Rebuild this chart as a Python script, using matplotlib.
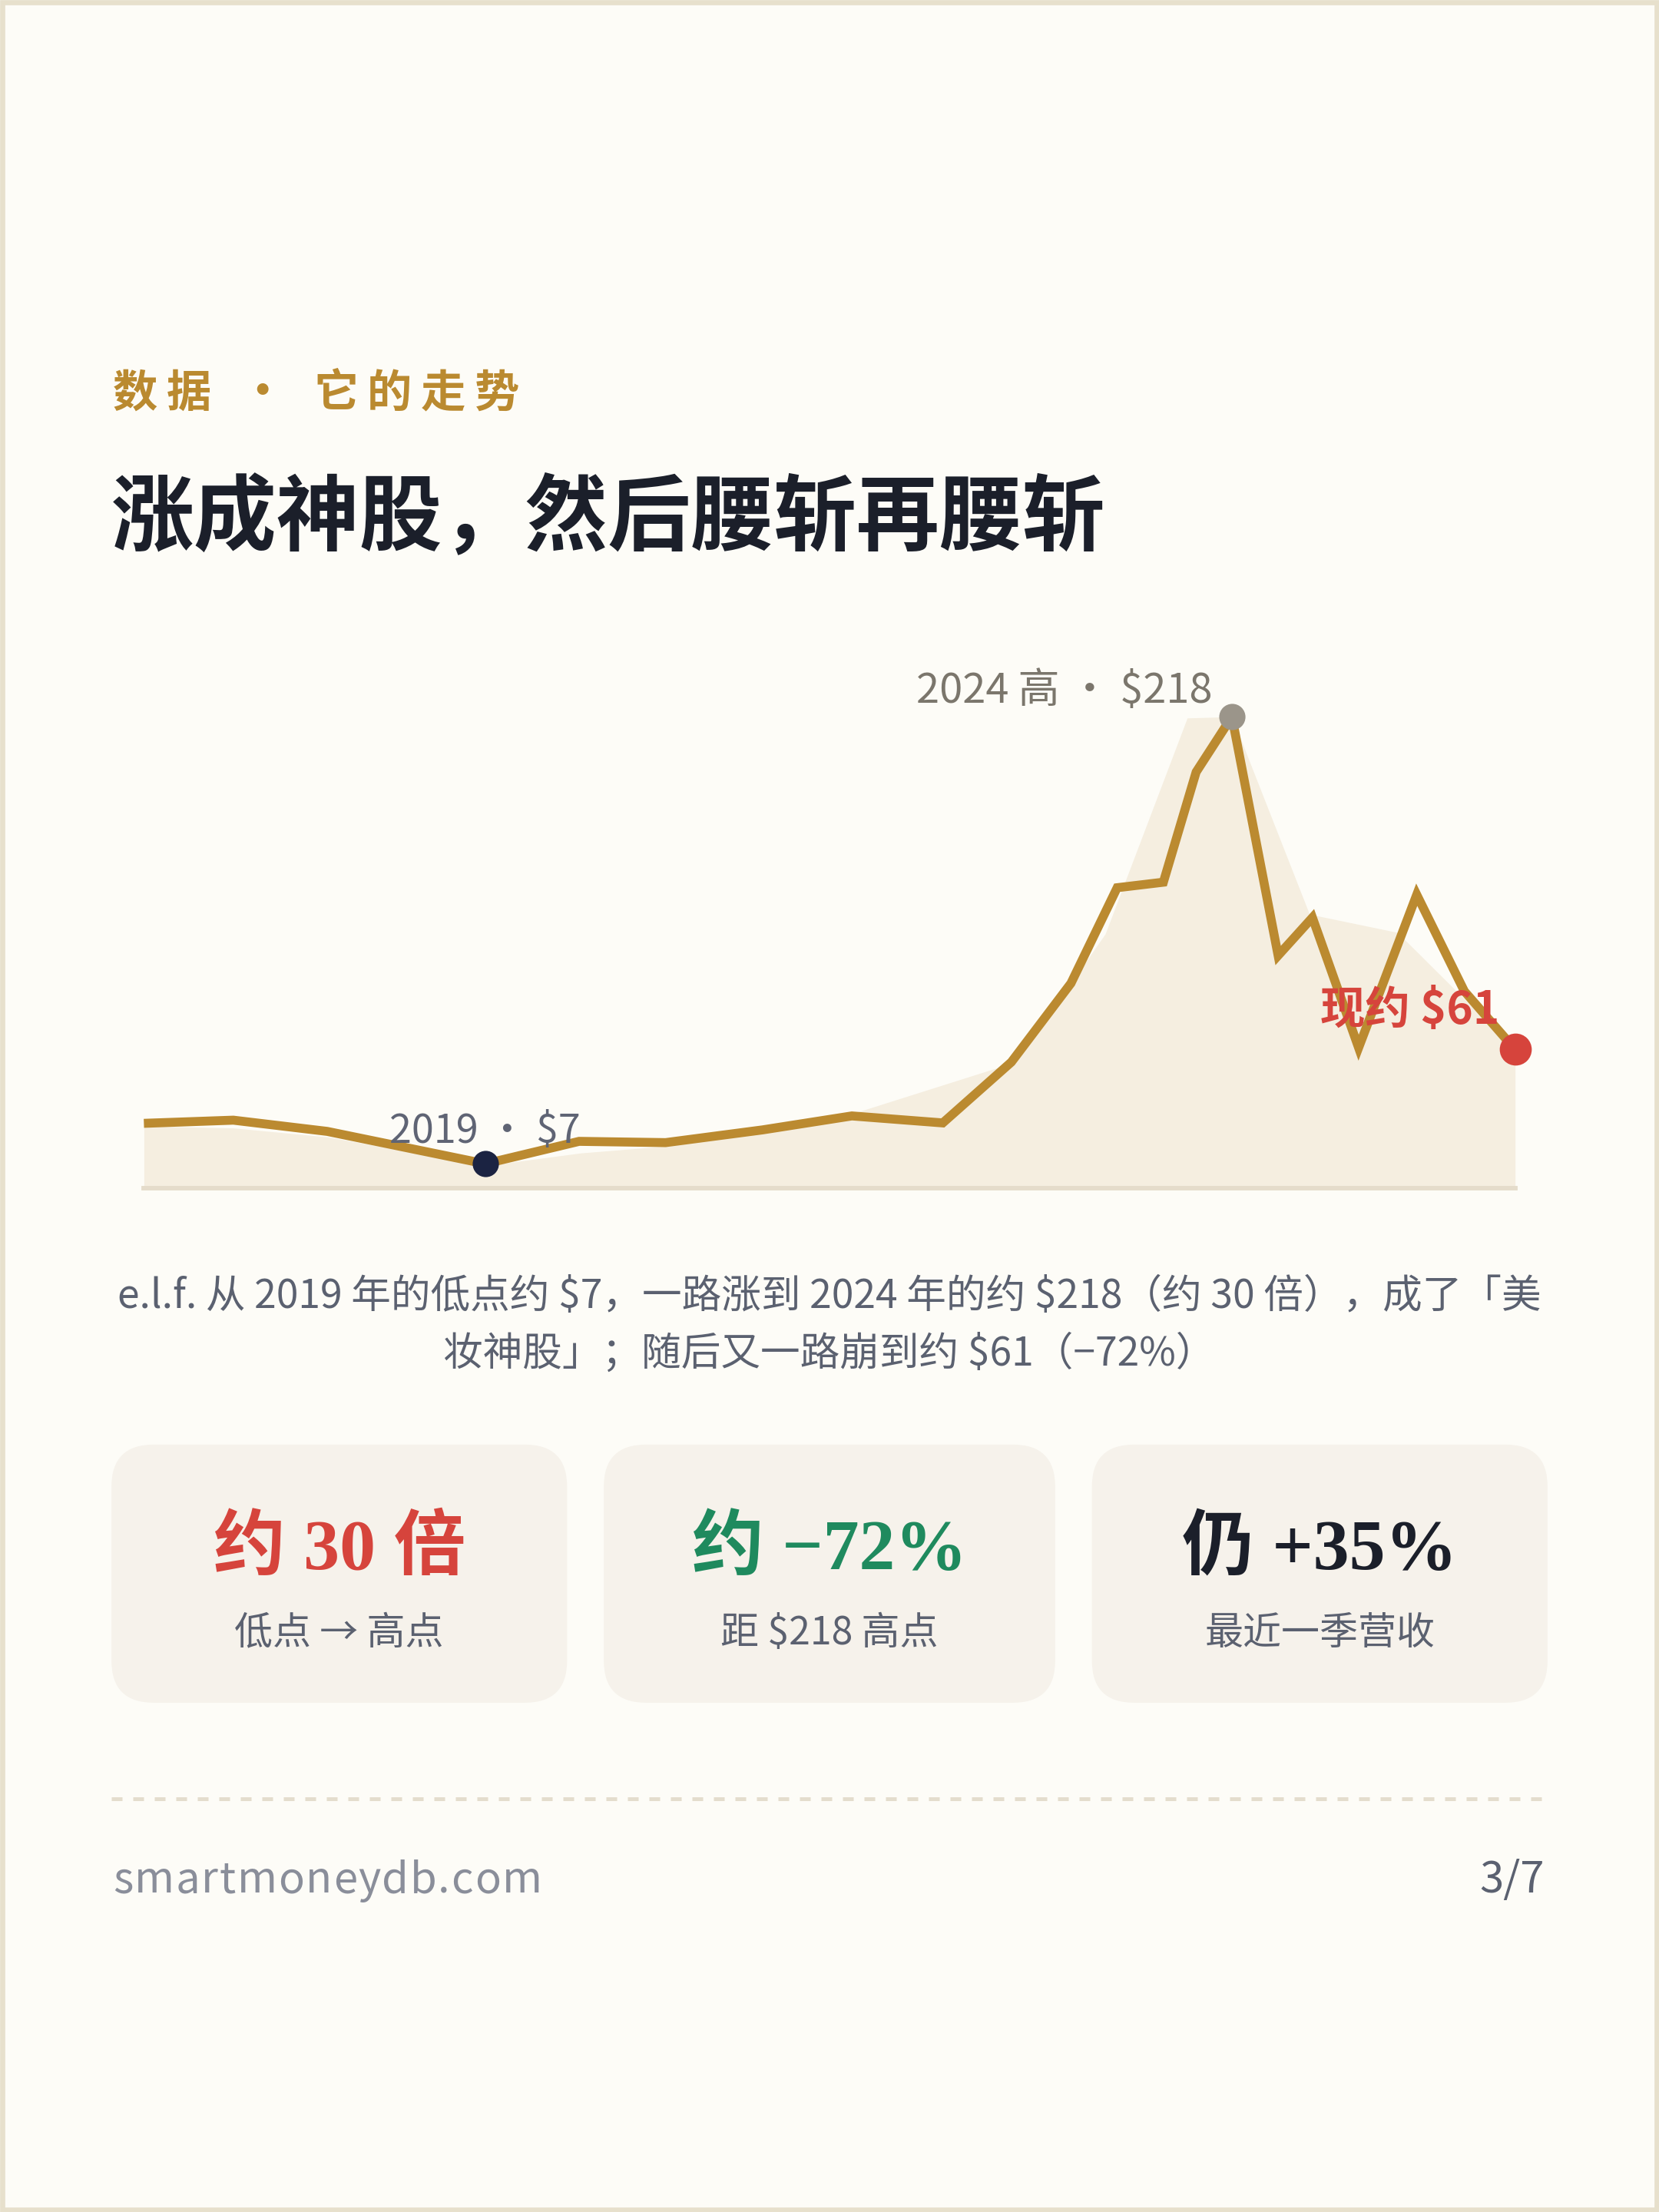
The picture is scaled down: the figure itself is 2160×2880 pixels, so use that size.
import matplotlib
matplotlib.use("Agg")
import matplotlib.pyplot as plt
from matplotlib.patches import FancyBboxPatch, Rectangle

plt.rcParams['font.family'] = ['Noto Sans CJK SC', 'DejaVu Sans']

# price line (x = fractional year, y = share price in $)
line_t = [2016.71, 2017.31, 2017.94, 2019.00, 2019.63, 2020.21, 2020.86, 2021.46,
          2022.07, 2022.53, 2022.93, 2023.24, 2023.55, 2023.77, 2024.01, 2024.32,
          2024.55, 2024.86, 2025.25, 2025.57, 2025.91]
line_v = [26.1, 27.6, 22.3, 7.0, 17.6, 17.0, 23.0, 29.6,
          26.3, 55.0, 92.2, 137.3, 139.9, 191.9, 218.0, 105.3,
          123.2, 61.8, 134.0, 88.4, 61.0]

# coarser shaded envelope behind the line
area_t = [2016.71, 2017.31, 2017.94, 2019.01, 2019.64, 2020.24, 2021.50, 2022.56,
          2023.16, 2023.71, 2024.01, 2024.53, 2025.12, 2025.91]
area_v = [24.8, 23.9, 19.7, 6.2, 12.1, 15.5, 31.5, 55.1,
          115.5, 217.4, 218.0, 124.8, 116.2, 61.0]

low_t, low_v = 2019.00, 7.0
high_t, high_v = 2024.01, 218.0
now_t, now_v = 2025.91, 61.0

header_chars = ["数", "据", "·", "它", "的", "走", "势"]
title = "涨成神股，然后腰斩再腰斩"
caption = ["e.l.f. 从 2019 年的低点约 $7，一路涨到 2024 年的约 $218（约 30 倍），成了「美",
           "妆神股」；随后又一路崩到约 $61（−72%）"]
card_big = ["约 30 倍", "约 −72%", "仍 +35%"]
card_small = ["低点 → 高点", "距 $218 高点", "最近一季营收"]

BG = "#fdfcf7"
GOLD = "#ba8a30"
DARK = "#1b1f2a"
GREY = "#5b6170"
RED = "#d6443c"
GREEN = "#1f8a5e"
card_colors = [RED, GREEN, DARK]

W, H = 1176, 1568
fig = plt.figure(figsize=(7.2, 9.6), dpi=300, facecolor=BG)
bg = fig.add_axes([0, 0, 1, 1])
bg.set_xlim(0, W)
bg.set_ylim(H, 0)
bg.axis("off")
bg.add_patch(Rectangle((1.5, 1.5), W - 3, H - 3, fill=False, ec="#e7e0cc", lw=1.6))

# header
header_x = [95.5, 134, 185.7, 238, 276, 314, 352.5]
for ch, x in zip(header_chars, header_x):
    bg.text(x, 279, ch, color=GOLD, fontsize=14, fontweight="bold", ha="center", va="center")

bg.text(79, 368, title, color=DARK, fontsize=25.9, fontweight="bold", ha="left", va="center")

# chart axes: value -> display y: 835.5 - 1.502 * v
ymin, ymax = -4.33, 240
ax = fig.add_axes([102 / W, 1 - 842 / H, (1074 - 102) / W, (842 - 475.0) / H])
ax.set_facecolor("none")
ax.set_xlim(line_t[0], line_t[-1])
ax.set_ylim(ymin, ymax)
ax.axis("off")
ax.fill_between(area_t, area_v, ymin, color="#f5eee0", lw=0)
ax.axhline(ymin, color="#e5dccb", lw=1.4, clip_on=False)
ax.plot(line_t, line_v, color="#bb8a30", lw=2.8, solid_joinstyle="miter", solid_capstyle="butt", zorder=3)
ax.plot([low_t], [low_v], "o", ms=7.2, color="#1b2342", zorder=4, clip_on=False)
ax.plot([high_t], [high_v], "o", ms=7.2, color="#9b958a", zorder=4, clip_on=False)
ax.plot([now_t], [now_v], "o", ms=9, color=RED, zorder=4, clip_on=False)

ax.annotate("2024 高 · $218", (high_t, high_v), xytext=(-6, 8), textcoords="offset points",
            ha="right", va="center", fontsize=13, color="#7b766c", annotation_clip=False,
            parse_math=False)
ax.annotate("2019 · $7", (low_t, low_v), xytext=(0, 10), textcoords="offset points",
            ha="center", va="center", fontsize=12.5, color="#5f6474", annotation_clip=False,
            parse_math=False)
ax.annotate("现约 $61", (now_t, now_v), xytext=(-5, 12), textcoords="offset points",
            ha="right", va="center", fontsize=14, fontweight="bold", color=RED,
            annotation_clip=False, zorder=5, parse_math=False)

# caption
bg.text(588, 919, caption[0], color=GREY, fontsize=12.4, ha="center", va="center", parse_math=False)
bg.text(588, 960, caption[1], color=GREY, fontsize=12.4, ha="center", va="center", parse_math=False)

# stat cards
card_x = [(79, 402), (428, 748), (774, 1097)]
for (x0, x1), big, small, col in zip(card_x, card_big, card_small, card_colors):
    bg.add_patch(FancyBboxPatch((x0, 1024), x1 - x0, 183, boxstyle="round,pad=0,rounding_size=30",
                                fc="#f6f2eb", ec="none"))
    cx = (x0 + x1) / 2
    bg.text(cx, 1099, big, color=col, fontsize=22.5, fontweight="bold", ha="center", va="center",
            family=["Liberation Serif", "Noto Sans CJK SC"], parse_math=False)
    bg.text(cx, 1158, small, color=GREY, fontsize=12, ha="center", va="center", parse_math=False)

# footer
bg.plot([79, 1097], [1275, 1275], color="#e4ddcd", lw=1.2, dashes=(2.8, 2.8))

renderer = fig.canvas.get_renderer()
x = 80
for ch in "smartmoneydb.com":
    t = bg.text(x, 1333, ch, color="#8a8e9a", fontsize=13.5, ha="left", va="center")
    bb = t.get_window_extent(renderer).transformed(bg.transData.inverted())
    x += (bb.x1 - bb.x0) + 0.9
bg.text(1095, 1333, "3/7", color=GREY, fontsize=13.5, ha="right", va="center")

fig.savefig("out.png", dpi=300, facecolor=BG)
